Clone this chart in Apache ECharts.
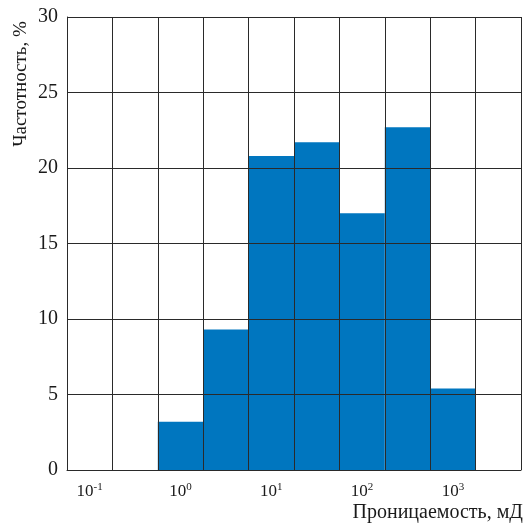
<!DOCTYPE html>
<html>
<head>
<meta charset="utf-8">
<script src="https://cdn.jsdelivr.net/npm/echarts@6/dist/echarts.min.js"></script>
<style>
  html, body { margin: 0; padding: 0; background: #fff; }
  #chart { width: 526px; height: 525px; }
</style>
</head>
<body>
<div id="chart"></div>
<script>
// half-decade bins, from 10^-1 to 10^3.5
const bins = ['-1', '-0.5', '0', '0.5', '1', '1.5', '2', '2.5', '3', '3.5'];
const freq = [0, 0, 3.2, 9.3, 20.8, 21.7, 17.0, 22.7, 5.4, 0];
const yTicks = [0, 5, 10, 15, 20, 25, 30];
const xName = 'Проницаемость, мД';
const yName = 'Частотность, %';

let chart = echarts.init(document.getElementById('chart'));
const lineColor = '#2a2a2a';

chart.setOption({
  animation: false,
  textStyle: { fontFamily: 'Liberation Serif' },
  grid: { left: 67, right: 5, top: 17, bottom: 55 },
  xAxis: {
    type: 'category',
    data: bins,
    z: 3,
    axisLine: { lineStyle: { color: lineColor, width: 1 } },
    axisTick: { show: false, interval: 0 },
    splitLine: { show: true, interval: 0, lineStyle: { color: lineColor, width: 1 } },
    axisLabel: {
      interval: 1,
      margin: 12,
      formatter: function (v) {
        return '{b|10}{s|' + v + '}';
      },
      rich: {
        b: { fontSize: 17, color: '#1a1a1a', fontFamily: 'Liberation Serif' },
        s: { fontSize: 11, color: '#1a1a1a', fontFamily: 'Liberation Serif', padding: [0, 0, 8, 0] }
      }
    }
  },
  yAxis: {
    type: 'value',
    min: yTicks[0],
    max: yTicks[yTicks.length - 1],
    interval: 5,
    z: 3,
    axisLine: { show: true, lineStyle: { color: lineColor, width: 1 } },
    axisTick: { show: false },
    splitLine: { show: true, lineStyle: { color: lineColor, width: 1 } },
    axisLabel: { fontSize: 20, color: '#1a1a1a', margin: 9, fontFamily: 'Liberation Serif' }
  },
  graphic: [
    {
      type: 'text',
      x: 21, y: 84,
      rotation: Math.PI / 2,
      style: {
        text: yName,
        fill: '#1a1a1a',
        font: '19px "Liberation Serif"',
        align: 'center',
        verticalAlign: 'middle'
      }
    },
    {
      type: 'text',
      x: 523, y: 513,
      style: {
        text: xName,
        fill: '#1a1a1a',
        font: '20px "Liberation Serif"',
        align: 'right',
        verticalAlign: 'middle'
      }
    }
  ],
  series: [
    {
      type: 'bar',
      data: freq,
      barWidth: '100%',
      z: 1,
      itemStyle: { color: '#0076BF' }
    }
  ]
});
</script>
</body>
</html>
